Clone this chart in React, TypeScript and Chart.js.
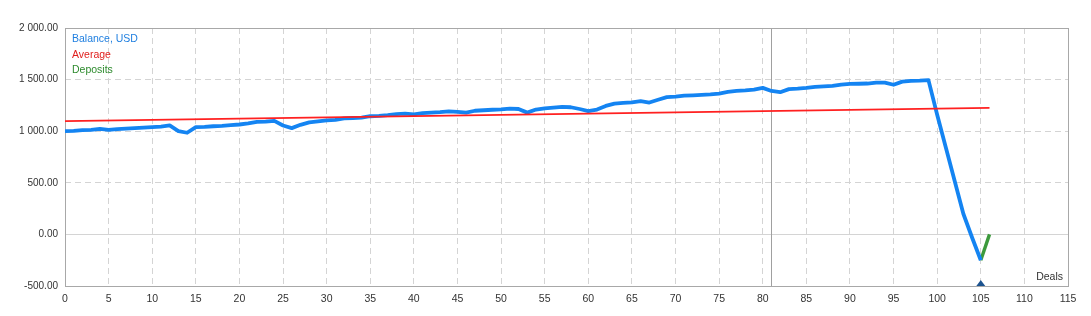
import React, { useEffect, useRef } from 'react';
import { Chart, registerables } from 'chart.js';

Chart.register(...registerables);

// Balance per deal (deal index = array position, 0..105)
const balanceValues: number[] = [
  1000, 1003, 1010, 1012, 1022, 1012, 1020, 1025, 1030, 1035,
  1040, 1045, 1056, 1000, 985, 1040, 1042, 1048, 1052, 1058,
  1065, 1075, 1090, 1092, 1100, 1055, 1030, 1062, 1085, 1095,
  1105, 1110, 1125, 1128, 1132, 1145, 1148, 1155, 1165, 1170,
  1163, 1175, 1180, 1185, 1192, 1188, 1180, 1198, 1203, 1208,
  1212, 1218, 1215, 1180, 1210, 1222, 1228, 1235, 1232, 1215,
  1195, 1210, 1245, 1268, 1275, 1280, 1292, 1278, 1305, 1330,
  1335, 1345, 1348, 1352, 1357, 1365, 1380, 1390, 1395, 1402,
  1420, 1390, 1378, 1408, 1412, 1420, 1430, 1435, 1440, 1452,
  1458, 1460, 1462, 1470, 1470, 1450, 1480, 1488, 1490, 1495,
  1160, 840, 520, 200, -30, -250,
];

const averageDeals: number[] = [0, 106];
const averageValues: number[] = [1098, 1226];

const depositDeals: number[] = [105, 106];
const depositValues: number[] = [-250, 0];

const depositMarkDeals: number[] = [105];
const cursorDeal = 81;

const xMin = 0;
const xMax = 115;
const xStep = 5;
const yMin = -500;
const yMax = 2000;
const yStep = 500;

const legendItems = [
  { text: 'Balance, USD', color: '#1f7fe0' },
  { text: 'Average', color: '#e0201e' },
  { text: 'Deposits', color: '#2e8b2e' },
];
const axisTitle = 'Deals';

const FONT = '"Liberation Sans", Arial, sans-serif';

function fmt(v: number): string {
  const neg = v < 0;
  const s = Math.abs(v).toFixed(2);
  const [ip, dp] = s.split('.');
  const grouped = ip.replace(/\B(?=(\d{3})+(?!\d))/g, ' ');
  return (neg ? '-' : '') + grouped + '.' + dp;
}

const overlayPlugin = {
  id: 'overlay',
  beforeDatasetsDraw(chart: any) {
    const { ctx, chartArea: a, scales } = chart;
    const x = scales.x;
    const y = scales.y;
    ctx.save();
    // solid zero line
    const y0 = Math.round(y.getPixelForValue(0)) + 0.5;
    ctx.strokeStyle = '#d4d4d4';
    ctx.lineWidth = 1;
    ctx.beginPath();
    ctx.moveTo(a.left, y0);
    ctx.lineTo(a.right, y0);
    ctx.stroke();
    // cursor line
    const cx = Math.round(x.getPixelForValue(cursorDeal)) + 0.5;
    ctx.strokeStyle = '#a0a0a0';
    ctx.beginPath();
    ctx.moveTo(cx, a.top);
    ctx.lineTo(cx, a.bottom);
    ctx.stroke();
    // frame
    ctx.strokeStyle = '#a8a8a8';
    ctx.strokeRect(Math.round(a.left) + 0.5, Math.round(a.top) + 0.5, Math.round(a.right - a.left), Math.round(a.bottom - a.top));
    ctx.restore();
  },
  afterDatasetsDraw(chart: any) {
    const { ctx, chartArea: a, scales } = chart;
    const x = scales.x;
    ctx.save();
    ctx.font = '10.5px ' + FONT;
    ctx.textBaseline = 'middle';
    ctx.textAlign = 'left';
    legendItems.forEach((it, i) => {
      ctx.fillStyle = it.color;
      ctx.fillText(it.text, a.left + 7, a.top + 11.5 + i * 15.3);
    });
    ctx.fillStyle = '#333333';
    ctx.textAlign = 'right';
    ctx.fillText(axisTitle, a.right - 5, a.bottom - 8.5);
    // deposit markers
    ctx.fillStyle = '#1c538f';
    depositMarkDeals.forEach((d) => {
      const px = x.getPixelForValue(d);
      ctx.beginPath();
      ctx.moveTo(px, a.bottom - 6);
      ctx.lineTo(px + 4.5, a.bottom);
      ctx.lineTo(px - 4.5, a.bottom);
      ctx.closePath();
      ctx.fill();
    });
    ctx.restore();
  },
};

export default function App() {
  const ref = useRef<HTMLCanvasElement | null>(null);

  useEffect(() => {
    if (!ref.current) return;
    const balancePts = balanceValues.map((v, i) => ({ x: i, y: v }));
    const avgPts = averageDeals.map((d, i) => ({ x: d, y: averageValues[i] }));
    const depPts = depositDeals.map((d, i) => ({ x: d, y: depositValues[i] }));

    const chart = new Chart(ref.current, {
      type: 'line',
      data: {
        datasets: [
          {
            label: 'Average',
            data: avgPts,
            borderColor: '#ff2020',
            borderWidth: 1.6,
            pointRadius: 0,
            tension: 0,
          },
          {
            label: 'Balance, USD',
            data: balancePts,
            borderColor: '#1484f2',
            borderWidth: 3.8,
            pointRadius: 0,
            tension: 0,
            borderJoinStyle: 'round',
          },
          {
            label: 'Deposits',
            data: depPts,
            borderColor: '#3c9a3c',
            borderWidth: 3.4,
            pointRadius: 0,
            tension: 0,
          },
        ],
      },
      options: {
        animation: false,
        responsive: false,
        devicePixelRatio: 1,
        layout: { padding: { top: 28, right: 23, left: 0, bottom: 0 } },
        plugins: {
          legend: { display: false },
          tooltip: { enabled: false },
        },
        scales: {
          x: {
            type: 'linear',
            min: xMin,
            max: xMax,
            ticks: {
              stepSize: xStep,
              color: '#333333',
              font: { family: FONT, size: 10.5 },
              padding: 7,
              maxRotation: 0,
              autoSkip: false,
            },
            grid: { color: '#d4d4d4', drawTicks: false, lineWidth: 1 },
            border: { display: false, dash: [6, 4] },
            afterFit: (s: any) => { s.height = 30; },
          },
          y: {
            type: 'linear',
            min: yMin,
            max: yMax,
            ticks: {
              stepSize: yStep,
              color: '#333333',
              font: { family: FONT, size: 10 },
              padding: 7,
              callback: (v: any) => fmt(Number(v)),
            },
            grid: { color: '#d4d4d4', drawTicks: false, lineWidth: 1 },
            border: { display: false, dash: [6, 4] },
            afterFit: (s: any) => { s.width = 65; },
          },
        },
      },
      plugins: [overlayPlugin],
    } as any);
    return () => chart.destroy();
  }, []);

  return (
    <div style={{ position: 'fixed', left: 0, top: 0, width: 1091, height: 316, background: '#ffffff' }}>
      <canvas ref={ref} width={1091} height={316} style={{ width: 1091, height: 316 }} />
    </div>
  );
}
